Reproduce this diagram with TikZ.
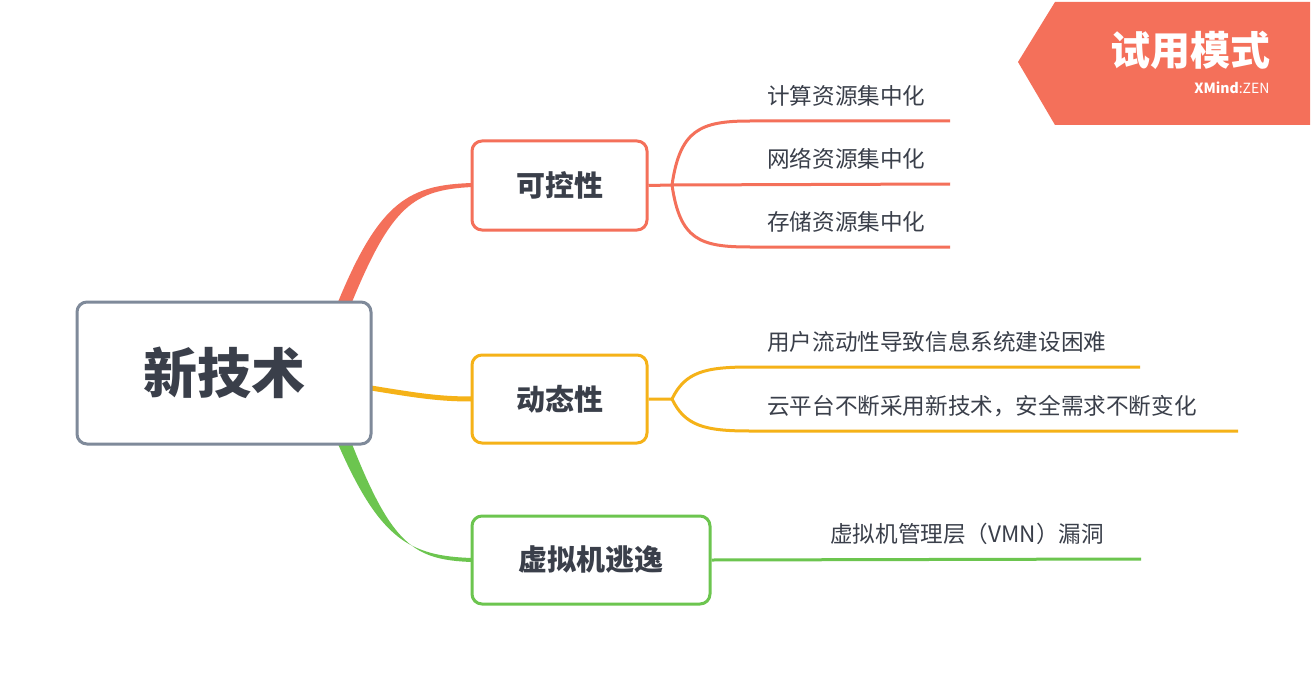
\documentclass[tikz,border=0pt]{standalone}
\usepackage{fontspec}
\setmainfont{Noto Sans CJK SC}
\definecolor{cr}{HTML}{F4705A}
\definecolor{cy}{HTML}{F5B218}
\definecolor{cg}{HTML}{6CC54F}
\definecolor{cgr}{HTML}{7F8A9A}
\definecolor{ctx}{HTML}{3A3F4A}
\begin{document}
\begin{tikzpicture}[x=1pt,y=-1pt,
  box/.style={draw,line width=3pt,rounded corners=10pt,inner sep=0,text=ctx,font=\fontsize{29}{32}\selectfont\bfseries},
  leaf/.style={anchor=south west,inner sep=0,text=ctx,font=\fontsize{22.6}{25}\selectfont},
  br/.style={line width=3pt}]
\useasboundingbox (0,0) rectangle (1313,679);
\fill[white] (0,0) rectangle (1313,679);
% badge
\fill[cr] (1018,62) -- (1055,2) -- (1310,2) -- (1310,125) -- (1055,125) -- cycle;
\node[text=white,font=\fontsize{40}{44}\selectfont\bfseries] (badge) at (1190,50) {试用模式};
\node[text=white,anchor=east,font=\fontsize{14}{15}\selectfont] (xm) at (1273,88) {\textbf{XMind}:ZEN};
% connectors root
\fill[cr] (338,302) .. controls (380,200) and (410,185) .. (472,183) -- (472,187) .. controls (414,190) and (392,205) .. (352,302) -- cycle;
\draw[cy,line width=5pt] (371,388) .. controls (420,396) and (440,399) .. (472,399);
\fill[cg] (338,444) .. controls (380,540) and (410,556) .. (472,558) -- (472,562) .. controls (414,560) and (392,545) .. (352,444) -- cycle;
% nodes
\node[box,draw=cgr,minimum width=294,minimum height=142,font=\fontsize{54}{60}\selectfont\bfseries] (root) at (224,373) {新技术};
\node[box,draw=cr,fill=white,minimum width=175,minimum height=89] (b1) at (559.5,185.5) {可控性};
\node[box,draw=cy,fill=white,minimum width=175,minimum height=88] (b2) at (559.5,399) {动态性};
\node[box,draw=cg,fill=white,minimum width=238,minimum height=88] (b3) at (591,560) {虚拟机逃逸};
% leaves red
\coordinate (r1) at (950,121); \coordinate (r2) at (950,184); \coordinate (r3) at (950,247);
\draw[cr,br] (b1.east) -- (672,185) .. controls (680,130) and (700,121) .. (750,121) -- (r1);
\draw[cr,br] (672,185) -- (r2);
\draw[cr,br] (672,185) .. controls (680,240) and (700,247) .. (750,247) -- (r3);
\node[leaf] (l1) at (767,107) {计算资源集中化};
\node[leaf] (l2) at (767,170) {网络资源集中化};
\node[leaf] (l3) at (767,233) {存储资源集中化};
% yellow
\coordinate (y1) at (1140,367); \coordinate (y2) at (1238,431);
\draw[cy,br] (b2.east) -- (672,399) .. controls (685,372) and (705,367) .. (750,367) -- (y1);
\draw[cy,br] (672,399) .. controls (685,426) and (705,431) .. (750,431) -- (y2);
\node[leaf] (l4) at (767,353) {用户流动性导致信息系统建设困难};
\node[leaf] (l5) at (767,417) {云平台不断采用新技术，安全需求不断变化};
% green
\coordinate (g1) at (1141,559);
\draw[cg,br] (b3.east) -- (g1);
\node[leaf] (l6) at (830,545) {虚拟机管理层（VMN）漏洞};
\end{tikzpicture}
\end{document}
